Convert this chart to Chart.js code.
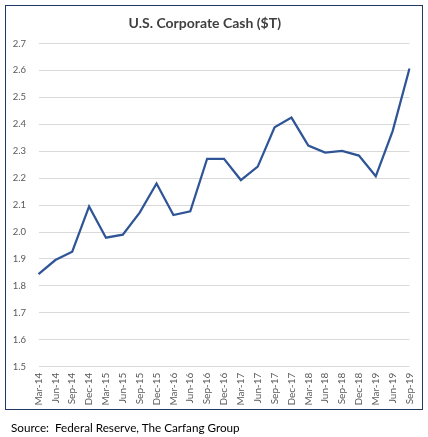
<!DOCTYPE html>
<html>
<head>
<meta charset="utf-8">
<script src="https://cdn.jsdelivr.net/npm/chart.js@4"></script>
<style>
  html, body { margin: 0; padding: 0; background: #ffffff; }
  body { width: 428px; height: 437px; position: relative; overflow: hidden; }
  #wrap { position: absolute; left: 0; top: 0; width: 428px; height: 437px; }
  #frame { position: absolute; left: 4.5px; top: 4.5px; width: 418px; height: 405px;
           border: 1.5px solid #1f3864; box-sizing: border-box; pointer-events: none; }
  #source { position: absolute; left: 11px; top: 419.5px; font-family: Lato, "Open Sans", sans-serif;
            font-size: 11.7px; color: #000; white-space: nowrap; }
</style>
</head>
<body>
<div id="wrap"><canvas id="c" width="428" height="437"></canvas></div>
<div id="frame"></div>
<div id="source">Source:&nbsp; Federal Reserve, The Carfang Group</div>
<script>
const categories = ["Mar-14","Jun-14","Sep-14","Dec-14","Mar-15","Jun-15","Sep-15","Dec-15",
  "Mar-16","Jun-16","Sep-16","Dec-16","Mar-17","Jun-17","Sep-17","Dec-17",
  "Mar-18","Jun-18","Sep-18","Dec-18","Mar-19","Jun-19","Sep-19"];
const corporateCash = [1.844,1.896,1.927,2.095,1.979,1.990,2.072,2.180,
  2.063,2.077,2.272,2.272,2.193,2.243,2.389,2.425,
  2.321,2.295,2.301,2.284,2.207,2.375,2.607];
const yMin = 1.5, yMax = 2.7, yStep = 0.1;
const titleText = "U.S. Corporate Cash ($T)";

new Chart(document.getElementById('c'), {
  type: 'line',
  data: {
    labels: categories,
    datasets: [{
      data: corporateCash,
      borderColor: '#2f5597',
      borderWidth: 2.25,
      pointRadius: 0,
      pointHoverRadius: 0,
      tension: 0,
      fill: false
    }]
  },
  options: {
    responsive: false,
    animation: false,
    devicePixelRatio: 1,
    layout: { padding: { left: 0, right: 18.5, top: 0, bottom: 0 } },
    plugins: {
      legend: { display: false },
      tooltip: { enabled: false },
      title: {
        display: true,
        text: titleText,
        color: '#404040',
        font: { family: 'Lato', size: 14, weight: 'bold', lineHeight: 1.2 },
        padding: { top: 15, bottom: 11.7 }
      }
    },
    scales: {
      x: {
        offset: false,
        grid: { display: false, drawTicks: false },
        border: { display: false },
        ticks: {
          autoSkip: false, minRotation: 90, maxRotation: 90,
          color: '#595959', padding: 6,
          font: { family: 'Lato', size: 10 }
        },
        afterFit: (s) => { s.height = 70.3; }
      },
      y: {
        min: yMin, max: yMax,
        grid: { color: '#d9d9d9', lineWidth: 1, drawTicks: false },
        border: { display: false },
        ticks: {
          stepSize: yStep, color: '#595959', padding: 12.5,
          font: { family: 'Lato', size: 9.5 },
          callback: (v) => Number(v).toFixed(1)
        },
        afterFit: (s) => { s.width = 38.5; }
      }
    }
  }
});
</script>
</body>
</html>
